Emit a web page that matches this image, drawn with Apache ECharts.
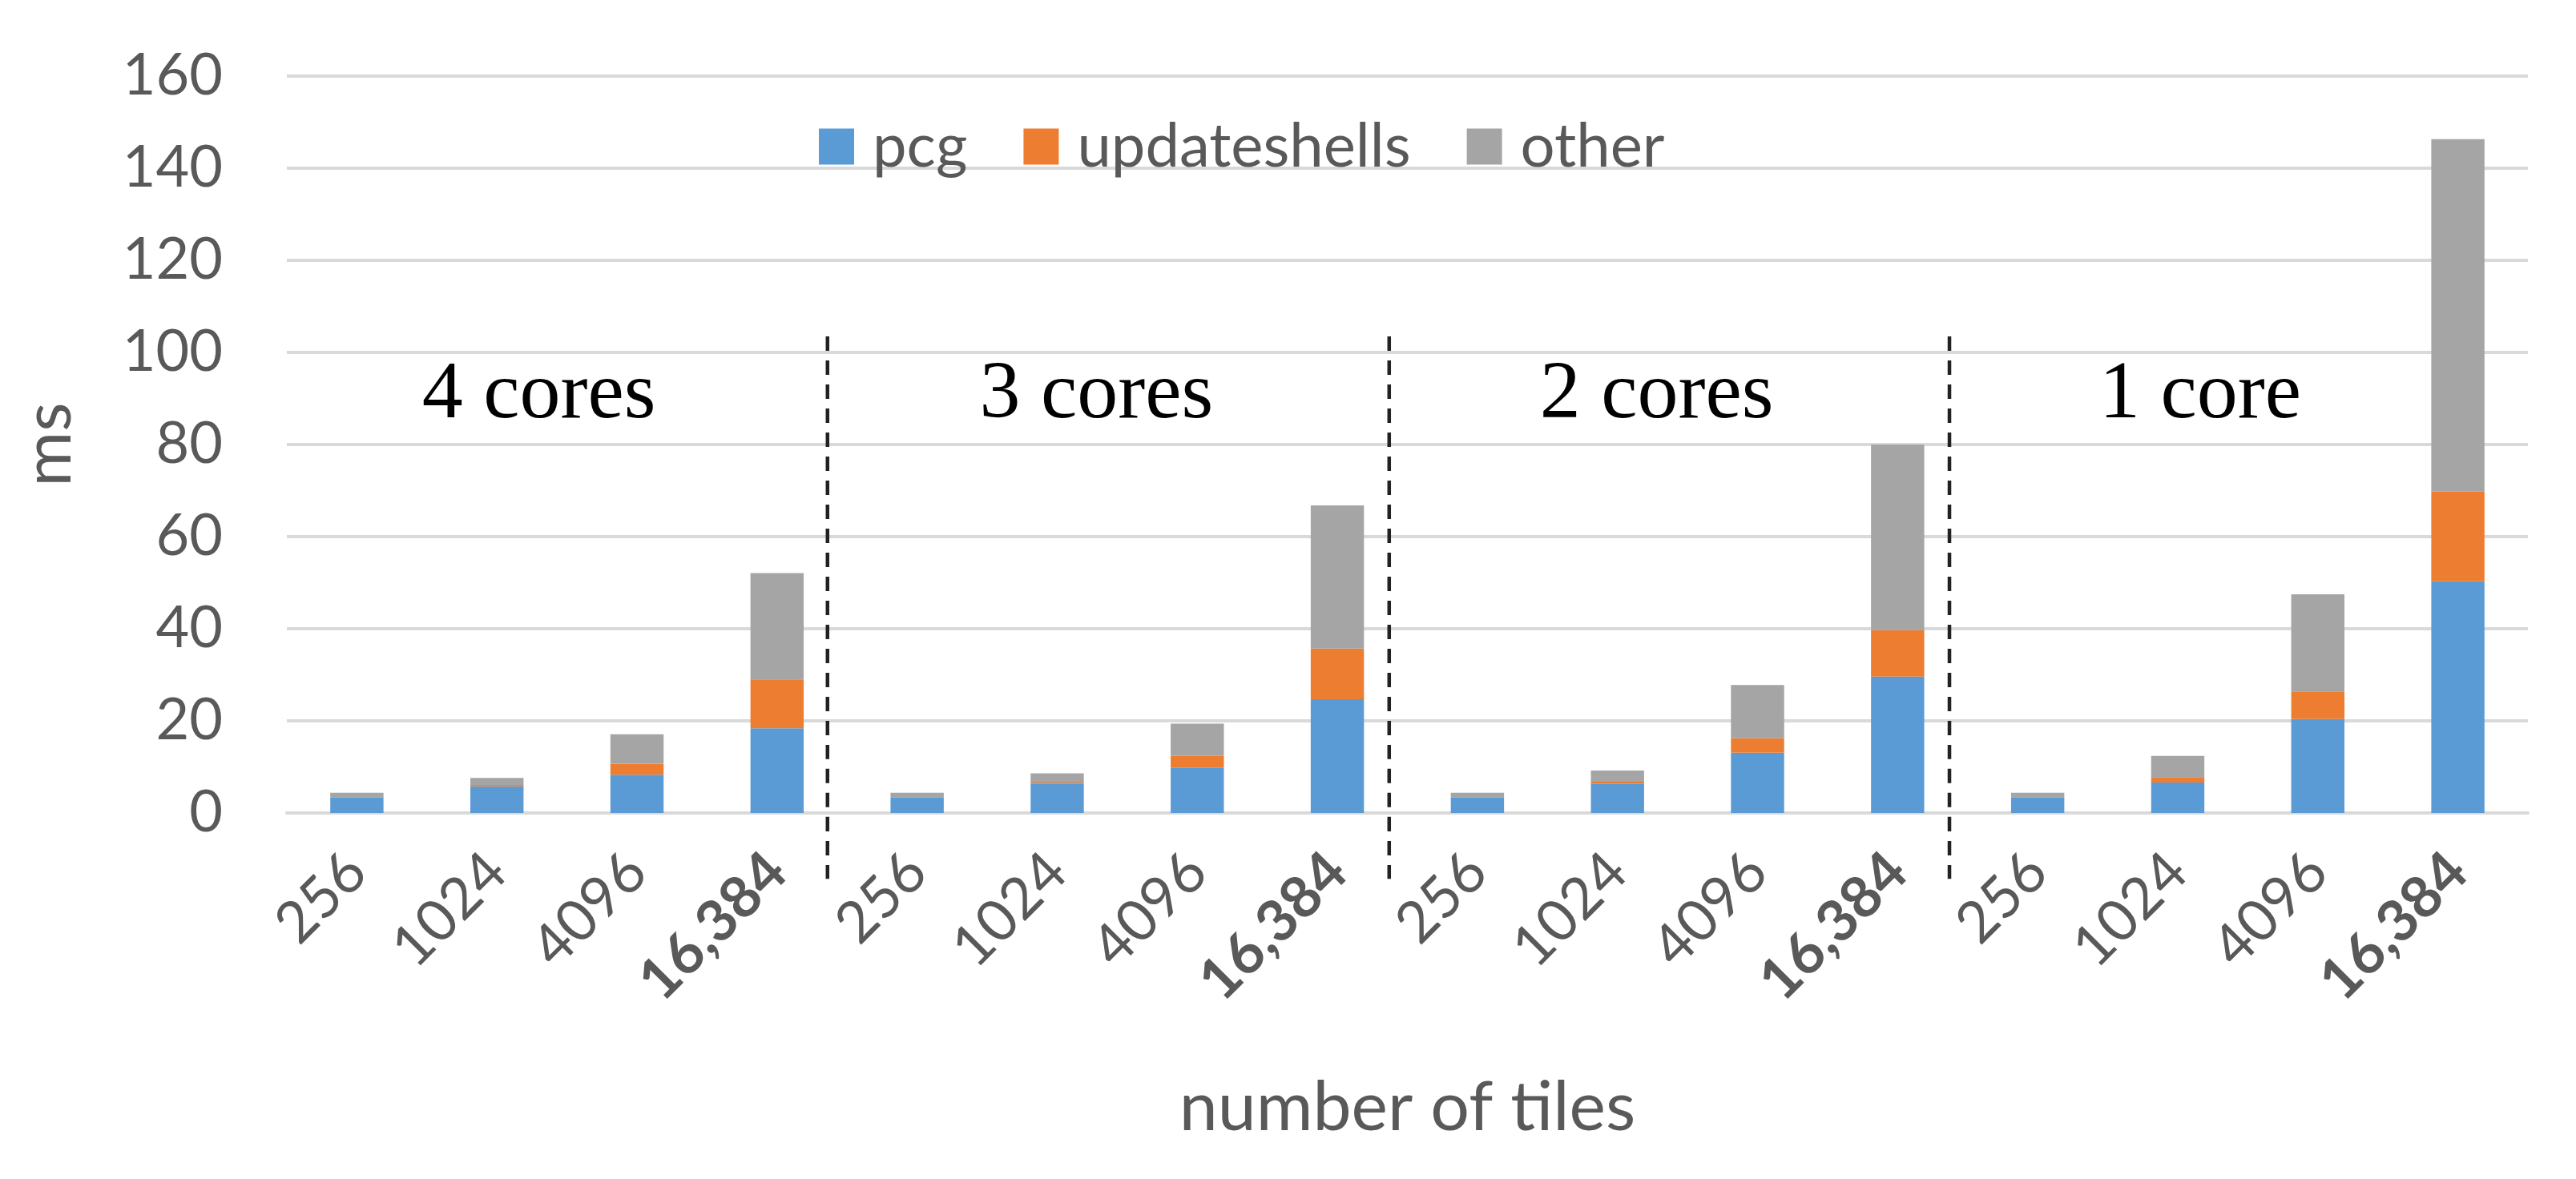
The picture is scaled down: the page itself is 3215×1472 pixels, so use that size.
<!DOCTYPE html>
<html>
<head>
<meta charset="utf-8">
<script src="https://cdn.jsdelivr.net/npm/echarts@6/dist/echarts.min.js"></script>
<style>
html,body{margin:0;padding:0;background:#fff;}
#chart{width:3215px;height:1472px;}
</style>
</head>
<body>
<div id="chart"></div>
<script>
// ---- data ----
const groups = ['4 cores', '3 cores', '2 cores', '1 core'];
const tiles = ['256', '1024', '4096', '16,384'];
const yTicks = [0, 20, 40, 60, 80, 100, 120, 140, 160];
const pcg          = [3.4, 5.8, 8.3, 18.4,  3.4, 6.3, 9.8, 24.7,  3.4, 6.3, 13.1, 29.6,  3.4, 6.6, 20.4, 50.3];
const updateshells = [0.1, 0.3, 2.4, 10.6,  0.1, 0.3, 2.6, 11.0,  0.1, 0.5, 3.1, 10.1,  0.1, 1.2, 6.0, 19.5];
const other        = [0.9, 1.5, 6.4, 23.1,  0.9, 2.0, 7.0, 31.1,  0.9, 2.4, 11.6, 40.3, 0.9, 4.6, 21.1, 76.5];

// annotation anchors (in category-index units)
const separatorAt = [3.36, 7.37, 11.37];
const groupLabelAt = [1.3, 5.28, 9.28, 13.16];

const categories = [];
groups.forEach(g => tiles.forEach(t => categories.push(g + '|' + t)));

const labelColor = '#595959';
const sans = 'Lato';

const chart = echarts.init(document.getElementById('chart'));
const option = {
  backgroundColor: '#fff',
  animation: false,
  grid: { left: 358, right: 60, top: 95, bottom: 457, containLabel: false },
  legend: {
    left: 1017, top: 140,
    itemWidth: 44, itemHeight: 45, itemGap: 70,
    icon: 'rect',
    data: ['pcg', 'updateshells', 'other'],
    formatter: n => '{a|' + n + '}',
    textStyle: {
      color: labelColor, fontFamily: sans, fontSize: 76,
      rich: { a: { color: labelColor, fontFamily: sans, fontSize: 76, padding: [0, 0, 0, 18], lineHeight: 60 } }
    }
  },
  xAxis: [{
    type: 'category',
    data: categories,
    name: 'number of tiles',
    nameLocation: 'middle',
    nameGap: 325,
    nameTextStyle: { color: labelColor, fontFamily: sans, fontSize: 86 },
    axisLine: { show: true, lineStyle: { color: '#d9d9d9', width: 4 } },
    axisTick: { show: false },
    axisLabel: {
      rotate: 45, margin: 62, interval: 0,
      color: labelColor, fontFamily: sans, fontSize: 72,
      formatter: v => {
        const t = v.split('|')[1];
        return t === tiles[3] ? '{b|' + t + '}' : t;
      },
      rich: { b: { color: labelColor, fontFamily: sans, fontSize: 72, fontWeight: 'bold' } }
    }
  }, {
    type: 'value', min: -0.5, max: 15.5, show: false
  }],
  yAxis: {
    type: 'value', min: 0, max: 160, interval: 20,
    name: 'ms', nameLocation: 'middle', nameGap: 255, nameRotate: 90,
    nameTextStyle: { color: labelColor, fontFamily: sans, fontSize: 84 },
    axisLine: { show: false }, axisTick: { show: false },
    axisLabel: { color: labelColor, fontFamily: sans, fontSize: 72, margin: 80,
      formatter: v => yTicks.indexOf(v) >= 0 ? String(v) : '' },
    splitLine: { lineStyle: { color: '#d9d9d9', width: 4 } }
  },
  series: [
    { name: 'pcg', type: 'bar', stack: 't', barWidth: '38%', data: pcg, itemStyle: { color: '#5B9BD5' } },
    { name: 'updateshells', type: 'bar', stack: 't', barWidth: '38%', data: updateshells, itemStyle: { color: '#ED7D31' } },
    { name: 'other', type: 'bar', stack: 't', barWidth: '38%', data: other, itemStyle: { color: '#A5A5A5' } }
  ]
};
chart.setOption(option);

function px(x, y) { return chart.convertToPixel({ xAxisIndex: 1, yAxisIndex: 0 }, [x, y]); }
const gfx = [];
separatorAt.forEach(s => {
  const a = px(s, 103.5), b = px(s, -14.3);
  gfx.push({ type: 'line', shape: { x1: a[0], y1: a[1], x2: b[0], y2: b[1] },
    style: { stroke: '#222', lineWidth: 4.5, lineDash: [18, 12] }, z: 10 });
});
groups.forEach((g, i) => {
  const p = px(groupLabelAt[i], 90.5);
  gfx.push({ type: 'text', x: p[0], y: p[1], z: 10,
    style: { text: g, fill: '#000', font: '102px "Liberation Serif"', textAlign: 'center', textVerticalAlign: 'middle' } });
});
chart.setOption({ graphic: gfx });
</script>
</body>
</html>
